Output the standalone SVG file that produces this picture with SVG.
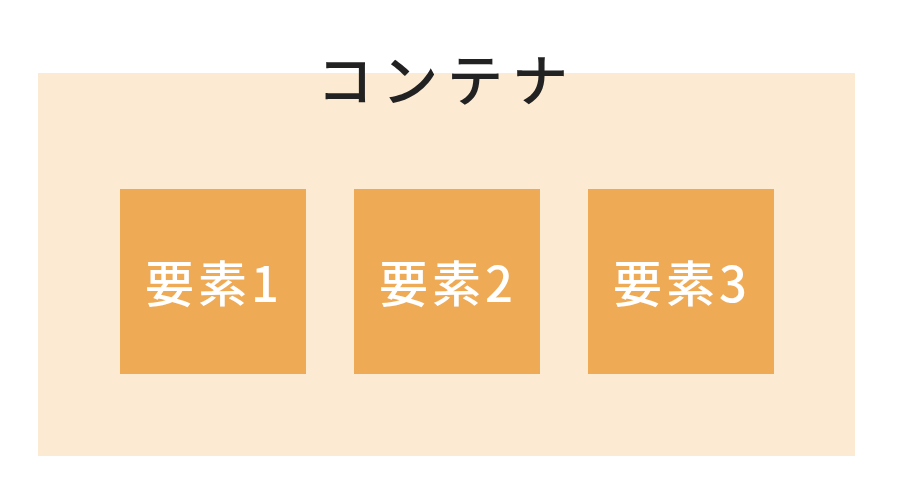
<svg xmlns="http://www.w3.org/2000/svg" width="902" height="488" viewBox="0 0 902 488">
<style>
.container{fill:#FCEBD2;}
.box{fill:#EFAA55;}
.title{font-family:"Noto Sans CJK JP","Noto Sans",sans-serif;font-size:56px;font-weight:500;fill:#222222;letter-spacing:9px;}
.label{font-family:"Noto Sans CJK JP","Noto Sans",sans-serif;font-size:49px;font-weight:500;fill:#FFFFFF;letter-spacing:4px;}
</style>
<rect width="902" height="488" fill="#FFFFFF"/>
<g id="container">
<rect class="container" x="38" y="73" width="817" height="383"/>
<text class="title" x="447" y="101" text-anchor="middle">コンテナ</text>
</g>
<g id="element1">
<rect class="box" x="120" y="189" width="186" height="185"/>
<text class="label" x="214" y="302" text-anchor="middle">要素1</text>
</g>
<g id="element2">
<rect class="box" x="354" y="189" width="186" height="185"/>
<text class="label" x="448" y="302" text-anchor="middle">要素2</text>
</g>
<g id="element3">
<rect class="box" x="588" y="189" width="186" height="185"/>
<text class="label" x="682" y="302" text-anchor="middle">要素3</text>
</g>
<g id="connectors"></g>
</svg>
